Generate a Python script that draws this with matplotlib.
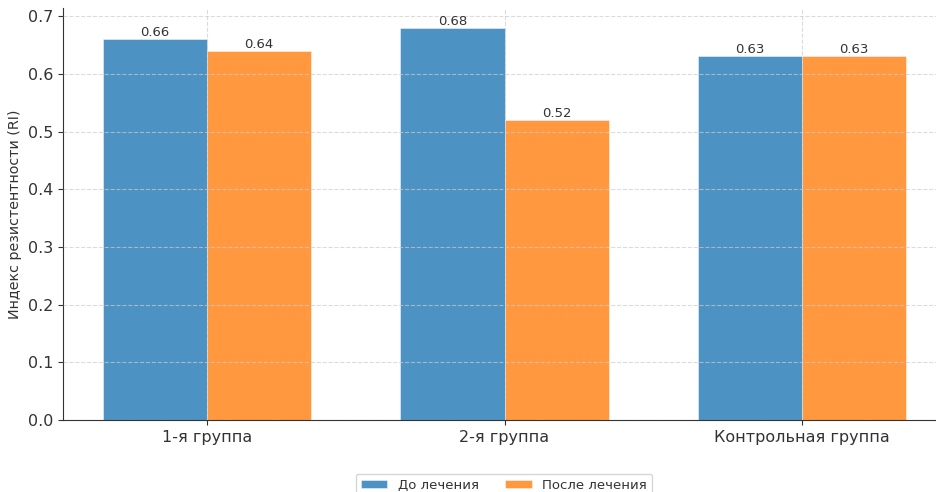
import numpy as np
import matplotlib.pyplot as plt

# data
groups = ['1-я группа', '2-я группа', 'Контрольная группа']
before = [0.66, 0.68, 0.63]
after = [0.64, 0.52, 0.63]
series_names = ['До лечения', 'После лечения']

plt.rcParams['font.family'] = ['DejaVu Sans']
plt.rcParams['text.color'] = '#333333'
plt.rcParams['axes.labelcolor'] = '#333333'
plt.rcParams['xtick.color'] = '#333333'
plt.rcParams['ytick.color'] = '#333333'

fig = plt.figure(figsize=(9.36, 4.92), dpi=100)
ax = fig.add_axes([0.0673, 0.1463, 0.9434, 0.8374])

x = np.arange(len(groups))
w = 0.35
b1 = ax.bar(x - w/2, before, w, color='tab:blue', alpha=0.8, label=series_names[0],
            edgecolor='white', linewidth=0.4, zorder=2)
b2 = ax.bar(x + w/2, after, w, color='tab:orange', alpha=0.8, label=series_names[1],
            edgecolor='white', linewidth=0.4, zorder=2)

for bars in (b1, b2):
    for r in bars:
        ax.text(r.get_x() + r.get_width()/2, r.get_height(), f'{r.get_height():.2f}',
                ha='center', va='bottom', fontsize=9.5, color='#333333')

ax.set_xticks(x)
ax.set_xticklabels(groups, fontsize=11.5)
ax.tick_params(axis='y', labelsize=11.5)
ax.set_ylabel('Индекс резистентности (RI)', fontsize=10.3)
ax.set_xlim(-0.485, 2.485)
ax.set_ylim(0, 0.714)
ax.set_yticks(np.arange(0, 0.71, 0.1))

ax.grid(True, linestyle='--', color='#cccccc', linewidth=0.8, alpha=0.7, zorder=3)
ax.set_axisbelow(False)
for s in ['top', 'right']:
    ax.spines[s].set_visible(False)
ax.spines['left'].set_color('#333333')
ax.spines['bottom'].set_color('#333333')

fig.legend(loc='upper center', bbox_to_anchor=(504/936, 25/492), ncol=2, fontsize=9.5,
           frameon=True, edgecolor='#cccccc', handlelength=2.0, handleheight=0.6,
           columnspacing=2.0)

fig.savefig('out.png', dpi=100)
